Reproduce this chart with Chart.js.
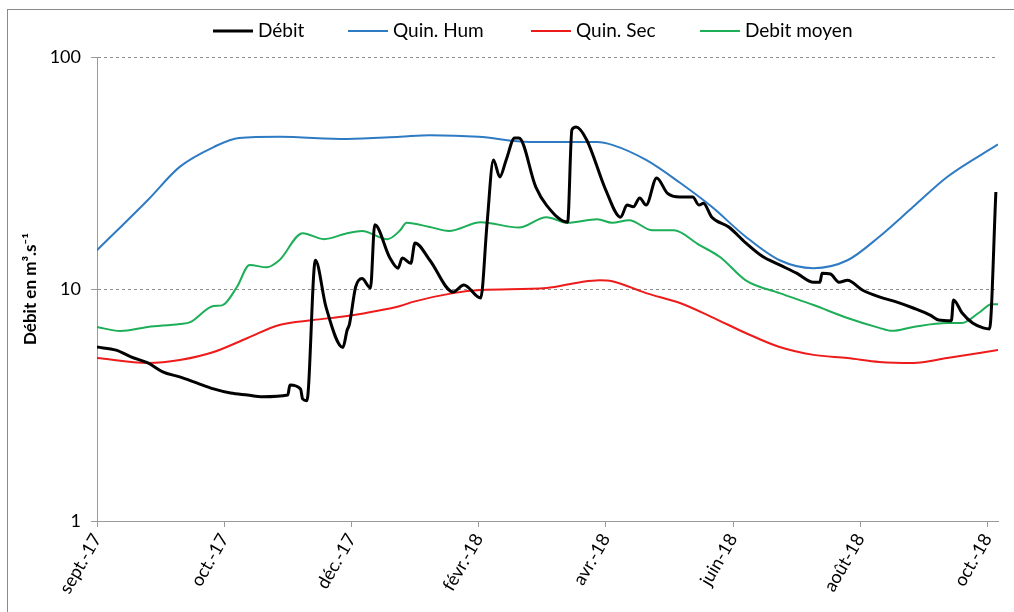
<!DOCTYPE html>
<html>
<head>
<meta charset="utf-8">
<script src="https://cdn.jsdelivr.net/npm/chart.js@4/dist/chart.umd.min.js"></script>
<style>
  html, body { margin: 0; padding: 0; background: #fff; overflow: hidden; }
  #c { display: block; }
</style>
</head>
<body>
<canvas id="c" width="1014" height="612"></canvas>
<script>
// x axis: days counted from 1 Sept 2017, major ticks every 60 days
const tickDays = [0, 60, 120, 180, 240, 300, 360, 420];
const tickLabels = ['sept.-17', 'oct.-17', 'déc.-17', 'févr.-18', 'avr.-18', 'juin-18', 'août-18', 'oct.-18'];
const yTicks = [1, 10, 100];

// Débit (daily discharge, m3/s)
const debitDays = [0, 9, 16, 24, 31, 39, 47, 55, 63, 71, 78, 90, 91, 96, 97, 99, 103, 108, 116, 118, 119, 122, 125, 129, 131, 138, 142, 144, 148, 150, 157, 168, 173, 181, 184, 187, 190, 193, 197, 199, 207, 212, 222, 224, 226, 231, 240, 247, 250, 253, 256, 259, 264, 269, 275, 281, 284, 286, 290, 298, 306, 314, 322, 330, 338, 341, 342, 346, 350, 354, 361, 369, 377, 385, 393, 397, 403, 404, 408, 413, 418, 421, 424];
const debitValues = [5.62, 5.45, 5.1, 4.8, 4.39, 4.18, 3.94, 3.71, 3.56, 3.49, 3.43, 3.49, 3.86, 3.71, 3.36, 3.3, 13.3, 8.37, 5.6, 6.66, 7.0, 10.2, 11.1, 10.1, 18.9, 13.7, 12.3, 13.6, 12.9, 15.8, 13.3, 9.7, 10.4, 9.15, 19.2, 36, 30.4, 36, 44.8, 44.8, 27.5, 23, 19.4, 48.5, 49.9, 43.9, 26.7, 20.4, 23, 22.6, 24.7, 23, 30.1, 25.9, 24.9, 24.9, 23, 23.4, 20.4, 18.5, 15.8, 13.8, 12.7, 11.7, 10.7, 10.7, 11.7, 11.6, 10.7, 10.9, 9.9, 9.25, 8.8, 8.28, 7.72, 7.35, 7.3, 8.97, 7.9, 7.13, 6.8, 6.73, 26.2];

// Quinquennale humide
const humDays = [0, 24, 39, 55, 67, 86, 118, 143, 157, 180, 204, 220, 236, 243, 259, 275, 290, 306, 322, 338, 354, 369, 385, 401, 425];
const humValues = [14.7, 24.2, 33.6, 40.9, 44.8, 45.3, 44.3, 45.3, 46.0, 45.3, 43.0, 43.0, 43.0, 41.8, 36, 28.7, 22.6, 16.8, 13.3, 12.3, 13.3, 16.8, 22.6, 30.4, 42];

// Quinquennale sèche
const secDays = [0, 24, 39, 55, 71, 86, 102, 118, 143, 149, 168, 181, 212, 228, 237, 243, 259, 275, 290, 306, 322, 338, 354, 369, 385, 401, 425];
const secValues = [5.04, 4.8, 4.94, 5.35, 6.15, 7.0, 7.35, 7.65, 8.45, 8.8, 9.6, 9.9, 10.1, 10.7, 10.9, 10.8, 9.6, 8.7, 7.57, 6.46, 5.62, 5.2, 5.04, 4.85, 4.8, 5.04, 5.46];

// Débit moyen interannuel
const moyenDays = [0, 11, 24, 39, 44, 55, 59, 66, 72, 80, 86, 97, 107, 118, 125, 137, 143, 146, 157, 166, 181, 199, 212, 222, 236, 243, 251, 262, 272, 284, 294, 306, 322, 338, 354, 369, 375, 385, 401, 408, 416, 422, 425];
const moyenValues = [6.86, 6.59, 6.86, 7.07, 7.2, 8.45, 8.5, 10.2, 12.7, 12.4, 13.3, 17.4, 16.4, 17.4, 17.8, 16.4, 17.9, 19.3, 18.5, 17.8, 19.4, 18.4, 20.4, 19.3, 20.0, 19.3, 19.8, 17.9, 17.9, 15.5, 13.7, 10.9, 9.6, 8.53, 7.5, 6.8, 6.6, 6.86, 7.13, 7.13, 7.9, 8.6, 8.6];

const seriesNames = ['Débit', 'Quin. Hum', 'Quin. Sec', 'Debit moyen'];
const seriesColors = ['#000000', '#2E7BC4', '#EE1B1B', '#1DAE58'];
const seriesWidths = [3, 2, 2, 2];

const FONT = 'Lato, "Open Sans", sans-serif';

function pts(days, values) {
  return days.map((d, i) => ({ x: d, y: values[i] }));
}

const datasets = [
  pts(debitDays, debitValues),
  pts(humDays, humValues),
  pts(secDays, secValues),
  pts(moyenDays, moyenValues)
].map((data, i) => ({
  label: seriesNames[i],
  data,
  borderColor: seriesColors[i],
  backgroundColor: seriesColors[i],
  borderWidth: seriesWidths[i],
  pointRadius: 0,
  cubicInterpolationMode: 'monotone',
  fill: false
}));

// outer frame of the chart
const framePlugin = {
  id: 'frame',
  beforeDraw(chart) {
    const ctx = chart.ctx;
    ctx.save();
    ctx.fillStyle = '#fff';
    ctx.fillRect(0, 0, chart.width, chart.height);
    ctx.strokeStyle = '#8a8a8a';
    ctx.lineWidth = 1;
    ctx.strokeRect(7.5, 9.5, 1200, 800);
    ctx.restore();
  }
};

// single-row legend above the plot, one slot per series
const legendSlots = [213, 348, 531, 700];
const legendPlugin = {
  id: 'topLegend',
  afterDraw(chart) {
    const ctx = chart.ctx;
    ctx.save();
    ctx.font = '19px ' + FONT;
    ctx.textBaseline = 'middle';
    ctx.textAlign = 'left';
    const y = 31;
    seriesNames.forEach((name, i) => {
      const x = legendSlots[i];
      ctx.strokeStyle = seriesColors[i];
      ctx.lineWidth = seriesWidths[i];
      ctx.beginPath();
      ctx.moveTo(x, y);
      ctx.lineTo(x + 40, y);
      ctx.stroke();
      ctx.fillStyle = '#000';
      ctx.fillText(name, x + 45, y);
    });
    ctx.restore();
  }
};

new Chart(document.getElementById('c'), {
  type: 'line',
  data: { datasets },
  options: {
    responsive: false,
    animation: false,
    devicePixelRatio: 1,
    layout: { padding: { top: 57, right: 16, left: 0, bottom: 0 } },
    plugins: {
      legend: { display: false },
      tooltip: { enabled: false }
    },
    scales: {
      x: {
        type: 'linear',
        min: 0,
        max: 425,
        afterBuildTicks: (scale) => { scale.ticks = tickDays.map(v => ({ value: v })); },
        afterFit: (scale) => { scale.height = 91; },
        ticks: {
          autoSkip: false,
          minRotation: 60,
          maxRotation: 60,
          padding: 3,
          color: '#000',
          font: { family: FONT, size: 18 },
          callback: (v, i) => tickLabels[i]
        },
        grid: {
          drawOnChartArea: false,
          drawTicks: true,
          tickLength: 6,
          color: '#9a9a9a',
          tickColor: '#9a9a9a'
        },
        border: { display: true, color: '#9a9a9a', width: 1 }
      },
      y: {
        type: 'logarithmic',
        min: 1,
        max: 100,
        afterBuildTicks: (scale) => { scale.ticks = yTicks.map(v => ({ value: v })); },
        afterFit: (scale) => { scale.width = 97; },
        ticks: {
          padding: 10,
          color: '#000',
          font: { family: FONT, size: 18 },
          callback: (v) => String(v)
        },
        grid: {
          drawOnChartArea: true,
          tickLength: 6,
          color: (c) => (c.tick && c.tick.value === 1 ? 'rgba(0,0,0,0)' : '#8f8f8f'),
          tickColor: '#9a9a9a',
          tickBorderDash: []
        },
        border: { display: true, color: '#9a9a9a', width: 1, dash: [3, 3] },
        title: {
          display: true,
          text: 'Débit en m³.s⁻¹',
          color: '#000',
          font: { family: FONT, size: 17, weight: 'bold' },
          padding: { top: 20, bottom: 0 }
        }
      }
    }
  },
  plugins: [framePlugin, legendPlugin]
});
</script>
</body>
</html>
